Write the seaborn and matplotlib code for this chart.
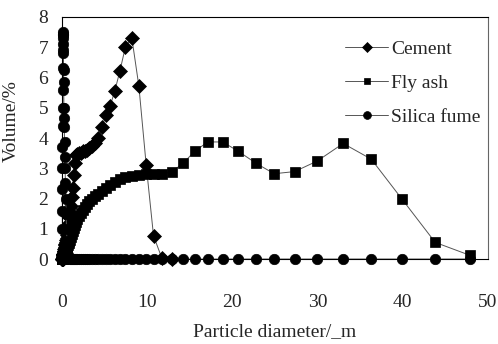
import numpy as np
import pandas as pd
import matplotlib
matplotlib.use("Agg")
import matplotlib.pyplot as plt
import seaborn as sns

# particle size bins (um)
size_um = [0.04, 0.044, 0.048, 0.053, 0.058, 0.064, 0.07, 0.077, 0.085, 0.093,
           0.1, 0.113, 0.124, 0.136, 0.15, 0.165, 0.18, 0.2, 0.22, 0.245,
           0.27, 0.3, 0.33, 0.36, 0.4, 0.44, 0.48, 0.53, 0.58, 0.64,
           0.7, 0.77, 0.85, 0.93,
           1.03, 1.13, 1.24, 1.36, 1.5, 1.65, 1.81, 1.99, 2.19, 2.41,
           2.65, 2.91, 3.2, 3.52, 3.87, 4.25, 4.68, 5.15, 5.65, 6.2,
           6.8, 7.45, 8.2, 9.02, 9.88,
           10.74, 11.73, 12.9, 14.2, 15.56, 17.1, 18.86, 20.7, 22.8, 24.9,
           27.3, 29.96, 33.0, 36.3, 39.85, 43.8, 47.9]

nan = np.nan
cement = [0, 0, 0, 0, 0, 0, 0, 0.02, 0.04, 0.06,
          0.08, 0.1, 0.12, 0.14, 0.16, 0.18, 0.2, 0.22, 0.25, 0.28,
          0.32, 0.36, 0.4, 0.45, 0.5, 0.56, 0.62, 0.7, 0.8, 0.92,
          1.05, 1.2, 1.4, 1.55,
          1.75, 2.06, 2.34, 2.78, 3.16, 3.44, 3.48, 3.5, 3.52, 3.56,
          3.58, 3.62, 3.66, 3.72, 3.82, 3.99, 4.35, 4.76, 5.06, 5.56,
          6.22, 7.02, 7.3, 5.72, 3.11,
          0.77, 0.02, 0, nan, nan, nan, nan, nan, nan, nan,
          nan, nan, nan, nan, nan, nan, nan]

fly_ash = [0, 0, 0, 0, 0, 0, 0, 0, 0, 0,
           0, 0.01, 0.02, 0.03, 0.04, 0.05, 0.06, 0.07, 0.08, 0.1,
           0.12, 0.14, 0.16, 0.19, 0.22, 0.26, 0.3, 0.34, 0.38, 0.43,
           0.48, 0.53, 0.58, 0.64,
           0.72, 0.82, 0.92, 1.02, 1.12, 1.22, 1.32, 1.42, 1.52, 1.62,
           1.72, 1.82, 1.92, 2.0, 2.08, 2.16, 2.26, 2.36, 2.45, 2.55,
           2.63, 2.7, 2.75, 2.78, 2.8,
           2.8, 2.8, 2.89, 3.16, 3.56, 3.87, 3.87, 3.56, 3.16, 2.82,
           2.89, 3.24, 3.82, 3.3, 2.0, 0.55, 0.12]

silica_fume = [1.0, 1.6, 2.3, 3.0, 3.7, 4.4, 5.0, 5.6, 6.3, 6.8,
               7.1, 7.4, 7.5, 7.45, 7.3, 6.9, 6.25, 5.85, 5.0, 4.65,
               4.37, 3.87, 3.37, 3.0, 2.5, 2.0, 1.5, 1.0, 0.6, 0.3,
               0.12, 0.05, 0.02, 0,
               0, 0, 0, 0, 0, 0, 0, 0, 0, 0,
               0, 0, 0, 0, 0, 0, 0, 0, 0, 0,
               0, 0, 0, 0, 0,
               0, 0, 0, 0, 0, 0, 0, 0, 0, 0,
               0, 0, 0, 0, 0, 0, 0]

series = {"Cement": (cement, "D", 7), "Fly ash": (fly_ash, "s", 6.5),
          "Silica fume": (silica_fume, "o", 7.5)}

sns.set_style("white")
plt.rcParams["font.family"] = ["Liberation Serif", "DejaVu Serif"]
plt.rcParams["font.size"] = 14

fig = plt.figure(figsize=(4.98, 3.44), dpi=100)
ax = fig.add_axes([0.1245, 0.247, 0.8555, 0.7036])

for name, (vals, mk, ms) in series.items():
    df = pd.DataFrame({"size": size_um, "vol": vals}).dropna()
    sns.lineplot(data=df, x="size", y="vol", ax=ax, sort=False, estimator=None,
                 color="#555555", linewidth=0.7, marker=mk, markersize=ms,
                 markerfacecolor="black", markeredgecolor="black",
                 markeredgewidth=0.5, label=name, clip_on=False)

ax.set_xlim(0, 50)
ax.set_ylim(0, 8)
ax.set_xticks([0, 10, 20, 30, 40, 50])
ax.set_yticks(range(0, 9))
ax.tick_params(axis="x", length=0, pad=25, labelsize=14)
ax.tick_params(axis="y", length=0, pad=10, labelsize=14)
for sp in ax.spines.values():
    sp.set_color("black")
    sp.set_linewidth(0.8)
ax.spines["right"].set_color("#666666")

ax.set_xlabel("Particle diameter/_m", fontsize=14)
ax.set_ylabel("Volume/%", fontsize=14)
ax.xaxis.set_label_coords(0.5, -0.265)
ax.yaxis.set_label_coords(-0.1, 0.57)

leg = ax.legend(loc="upper left", bbox_to_anchor=(0.665, 0.905), frameon=False,
                borderpad=0, borderaxespad=0, handlelength=2.2,
                handletextpad=0.15, labelspacing=0.85, markerscale=0.75,
                fontsize=14)

fig.savefig("out.png", dpi=100)
